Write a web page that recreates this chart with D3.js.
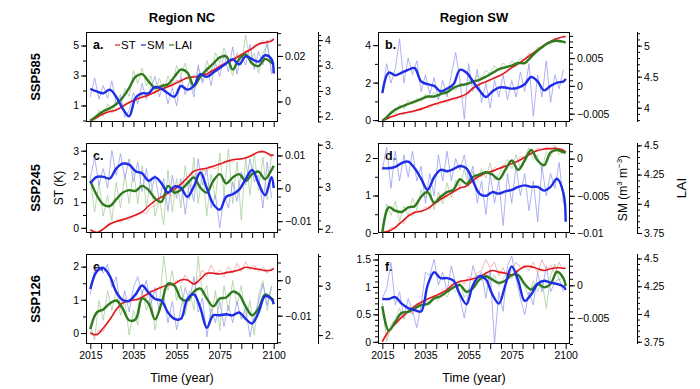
<!DOCTYPE html>
<html>
<head>
<meta charset="utf-8">
<script src="https://cdn.jsdelivr.net/npm/d3@7"></script>
<style>
  body { margin: 0; background: #fff; }
</style>
</head>
<body>
<script>
// years: raw series sampled every 2 years, smoothed series every 3 years
const rawYears = d3.range(2015, 2100, 2)
const smoothYears = d3.range(2015, 2100, 3).concat([2100])
const xTickYears = d3.range(2015, 2101, 5)
const xLabelYears = [2015, 2035, 2055, 2075, 2100]

const regions = ["Region NC", "Region SW"]
const scenarios = ["SSP585", "SSP245", "SSP126"]
const panelLetters = ["a.", "b.", "c.", "d.", "e.", "f."]
const legendNames = ["ST", "SM", "LAI"]

// ---- a. NC SSP585
const a_st = [0.0, 0.2, 0.45, 0.6, 0.7, 0.95, 1.2, 1.4, 1.55, 1.7, 1.9, 2.1, 2.25, 2.45, 2.65, 2.85, 2.9, 2.95, 3.1, 3.35, 3.6, 3.85, 4.05, 4.3, 4.55, 4.8, 5.1, 5.2, 5.3, 5.45]
const a_st_raw = [0.1, 0.05, 0.4, 0.35, 0.7, 0.5, 0.8, 0.75, 1.1, 1.15, 1.45, 1.3, 1.7, 1.5, 1.9, 1.8, 2.15, 1.95, 2.4, 2.2, 2.7, 2.55, 2.9, 2.7, 3.05, 2.8, 3.15, 2.95, 3.4, 3.25, 3.75, 3.6, 4.05, 3.9, 4.4, 4.2, 4.7, 4.55, 5.05, 4.95, 5.35, 5.05, 5.5]
const a_sm = [0.0056, 0.0044, 0.0036, 0.0052, 0.0021, -0.0031, -0.0065, 0.0017, 0.0036, 0.0036, 0.0064, 0.0056, 0.0036, 0.0021, 0.0068, 0.0052, 0.0068, 0.012, 0.0108, 0.0127, 0.0147, 0.0167, 0.0186, 0.0163, 0.0198, 0.0186, 0.0175, 0.0203, 0.0186, 0.0123]
const a_sm_raw = [0.002, 0.0104, 0.001, 0.007, 0.0015, 0.009, -0.001, 0.003, -0.007, -0.004, 0.004, -0.001, 0.008, 0.001, 0.006, 0.011, 0.002, 0.008, -0.001, 0.006, -0.002, 0.011, 0.003, 0.009, 0.002, 0.016, 0.008, 0.015, 0.007, 0.017, 0.011, 0.021, 0.013, 0.024, 0.012, 0.021, 0.016, 0.025, 0.014, 0.022, 0.016, 0.027, 0.012]
const a_lai = [2.41, 2.51, 2.6, 2.66, 2.74, 2.87, 3.06, 3.28, 3.33, 3.19, 3.06, 3.1, 3.13, 3.28, 3.42, 3.36, 3.1, 3.28, 3.42, 3.54, 3.66, 3.68, 3.42, 3.63, 3.72, 3.54, 3.49, 3.63, 3.56, 3.52]
const a_lai_raw = [2.45, 2.4, 2.62, 2.5, 2.75, 2.58, 2.85, 2.7, 3.05, 2.9, 3.4, 3.15, 3.45, 3.1, 3.3, 2.95, 3.25, 3.0, 3.3, 3.1, 3.5, 3.3, 3.55, 3.2, 3.0, 3.45, 3.2, 3.6, 3.35, 3.75, 3.55, 3.85, 3.55, 3.3, 3.75, 3.5, 4.1, 3.6, 3.75, 3.35, 3.75, 3.9, 3.4]

// ---- b. SW SSP585
const b_st = [0.0, 0.12, 0.25, 0.35, 0.42, 0.5, 0.6, 0.72, 0.85, 0.95, 1.05, 1.15, 1.25, 1.4, 1.7, 1.9, 2.05, 2.2, 2.35, 2.55, 2.8, 3.0, 3.25, 3.5, 3.75, 4.0, 4.2, 4.35, 4.45, 4.45]
const b_st_raw = [0.05, 0.0, 0.2, 0.22, 0.35, 0.3, 0.45, 0.4, 0.55, 0.52, 0.7, 0.65, 0.85, 0.8, 0.98, 0.95, 1.1, 1.08, 1.25, 1.2, 1.4, 1.65, 1.85, 1.95, 2.05, 2.1, 2.3, 2.3, 2.45, 2.6, 2.8, 2.9, 3.15, 3.2, 3.45, 3.55, 3.8, 3.9, 4.1, 4.15, 4.35, 4.35, 4.5]
const b_sm = [-0.0013, 0.0024, 0.0019, 0.0024, 0.0029, 0.0032, 0.0008, 0.0003, 0.0, -0.001, -0.0005, 0.0003, 0.0029, 0.0024, 0.0008, -0.0008, -0.002, -0.001, -0.0003, -0.0003, -0.0005, -0.0003, 0.0003, 0.0016, 0.0008, -0.0008, 0.0, 0.0006, 0.0008, 0.0013]
const b_sm_raw = [-0.001, 0.004, 0.0005, 0.003, 0.0085, 0.0005, 0.005, 0.002, 0.0045, -0.001, 0.002, -0.0015, 0.0015, -0.0025, 0.001, -0.002, 0.002, 0.006, 0.001, -0.006, 0.004, -0.001, 0.003, -0.003, 0.0005, -0.004, 0.001, -0.002, 0.002, -0.0025, 0.001, -0.002, 0.0025, -0.001, 0.004, -0.0055, 0.002, -0.002, 0.0045, -0.003, 0.002, -0.0005, 0.003]
const b_lai = [3.78, 3.88, 3.97, 4.02, 4.06, 4.1, 4.14, 4.18, 4.18, 4.22, 4.25, 4.32, 4.36, 4.38, 4.42, 4.45, 4.5, 4.56, 4.62, 4.65, 4.68, 4.72, 4.72, 4.82, 4.92, 5.0, 5.06, 5.08, 5.06, 5.05]
const b_lai_raw = [3.8, 3.85, 3.95, 3.9, 4.05, 3.98, 4.12, 4.05, 4.15, 4.1, 4.22, 4.15, 4.25, 4.15, 4.28, 4.22, 4.35, 4.28, 4.4, 4.35, 4.45, 4.4, 4.52, 4.48, 4.6, 4.55, 4.68, 4.6, 4.72, 4.66, 4.75, 4.7, 4.8, 4.76, 4.88, 4.85, 4.98, 4.95, 5.05, 5.02, 5.1, 5.05, 5.08]

// ---- c. NC SSP245
const c_st = [-0.08, -0.18, -0.05, 0.15, 0.25, 0.32, 0.4, 0.5, 0.62, 0.85, 1.05, 1.2, 1.35, 1.5, 1.7, 1.95, 2.2, 2.28, 2.32, 2.4, 2.48, 2.58, 2.65, 2.68, 2.72, 2.82, 2.95, 2.95, 2.82, 2.85]
const c_st_raw = [-0.05, -0.15, -0.2, -0.05, 0.05, 0.15, 0.25, 0.22, 0.35, 0.3, 0.45, 0.5, 0.6, 0.55, 0.8, 0.85, 1.05, 1.1, 1.3, 1.25, 1.45, 1.5, 1.75, 1.8, 2.05, 2.1, 2.25, 2.2, 2.35, 2.3, 2.45, 2.5, 2.6, 2.55, 2.7, 2.65, 2.75, 2.8, 2.9, 2.95, 3.0, 2.85, 2.75]
const c_sm = [0.0015, 0.0035, 0.0035, 0.003, 0.006, 0.0075, 0.0072, 0.0052, 0.0046, 0.0023, 0.0034, 0.0015, -0.0013, 0.0006, 0.0001, -0.0026, 0.0006, 0.0048, 0.0001, -0.0048, -0.0065, -0.0026, -0.0018, -0.0004, 0.0028, 0.0056, 0.0015, -0.0021, 0.0034, 0.0001]
const c_sm_raw = [0.003, 0.0095, 0.001, 0.006, 0.0, 0.0115, 0.004, 0.0105, 0.003, 0.009, 0.002, 0.008, -0.001, 0.006, -0.002, 0.004, -0.004, 0.003, -0.007, 0.004, -0.003, 0.003, -0.008, 0.002, -0.004, 0.009, 0.001, 0.006, -0.006, -0.002, -0.012, -0.002, -0.006, 0.002, -0.004, 0.005, 0.001, 0.009, 0.002, 0.004, -0.006, 0.008, -0.003]
const c_lai = [3.07, 2.9, 2.79, 2.77, 2.85, 2.93, 2.96, 2.95, 3.01, 2.96, 2.86, 2.82, 3.01, 2.93, 2.96, 3.04, 3.11, 2.99, 2.93, 3.07, 3.15, 3.04, 3.11, 3.15, 3.07, 3.15, 3.18, 3.09, 3.2, 3.25]
const c_lai_raw = [3.1, 2.7, 3.05, 2.65, 2.9, 2.6, 3.05, 2.75, 3.15, 2.8, 3.2, 2.8, 3.25, 2.75, 3.1, 2.65, 2.85, 2.55, 3.2, 2.7, 3.1, 2.75, 3.25, 2.85, 3.35, 2.8, 3.2, 2.65, 3.15, 2.85, 3.4, 2.9, 3.45, 2.8, 3.3, 2.6, 3.35, 2.9, 3.4, 2.95, 3.35, 2.85, 3.4]

// ---- d. SW SSP245
const d_st = [0.02, 0.05, 0.15, 0.3, 0.45, 0.55, 0.58, 0.65, 0.78, 0.9, 1.0, 1.1, 1.2, 1.25, 1.4, 1.52, 1.6, 1.65, 1.72, 1.78, 1.85, 1.92, 2.02, 2.12, 2.2, 2.24, 2.25, 2.25, 2.2, 2.15]
const d_st_raw = [0.05, 0.0, 0.15, 0.1, 0.3, 0.25, 0.5, 0.45, 0.6, 0.55, 0.7, 0.62, 0.85, 0.8, 1.0, 0.95, 1.12, 1.1, 1.25, 1.2, 1.4, 1.35, 1.55, 1.5, 1.65, 1.6, 1.75, 1.7, 1.82, 1.78, 1.92, 1.88, 2.05, 2.0, 2.18, 2.12, 2.28, 2.2, 2.3, 2.22, 2.3, 2.2, 2.25]
const d_sm = [-0.0013, -0.0013, -0.0011, -0.0006, -0.0004, -0.0013, -0.0027, -0.0042, -0.0025, -0.0015, -0.0017, -0.0014, -0.001, -0.0013, -0.003, -0.0047, -0.005, -0.0045, -0.0047, -0.0044, -0.0042, -0.0038, -0.0036, -0.0038, -0.0038, -0.0043, -0.0038, -0.0027, -0.0047, -0.0085]
const d_sm_raw = [-0.0015, 0.0015, -0.004, 0.001, -0.003, 0.0005, -0.0025, 0.001, -0.003, -0.001, -0.006, -0.002, -0.005, 0.0005, -0.003, 0.001, -0.003, 0.0, -0.0015, 0.0005, -0.003, -0.001, -0.006, -0.003, -0.0075, -0.002, -0.006, -0.003, -0.009, -0.002, -0.006, -0.001, -0.005, -0.002, -0.007, -0.003, -0.0085, -0.001, -0.005, -0.002, -0.004, -0.0005, -0.006]
const d_lai = [3.75, 3.97, 3.94, 3.93, 3.97, 3.98, 4.06, 4.1, 4.01, 4.06, 4.1, 4.12, 4.21, 4.17, 4.23, 4.25, 4.27, 4.25, 4.21, 4.29, 4.37, 4.29, 4.37, 4.46, 4.37, 4.33, 4.44, 4.46, 4.44, 4.44]
const d_lai_raw = [3.78, 4.0, 3.9, 4.02, 3.85, 3.98, 3.9, 4.05, 3.95, 4.12, 4.05, 4.15, 3.95, 4.1, 4.0, 4.18, 4.05, 4.2, 4.15, 4.3, 4.15, 4.28, 4.2, 4.3, 4.22, 4.35, 4.2, 4.25, 4.32, 4.38, 4.3, 4.42, 4.3, 4.4, 4.48, 4.38, 4.42, 4.28, 4.45, 4.4, 4.5, 4.42, 4.45]

// ---- e. NC SSP126
const e_st = [0.0, -0.05, 0.15, 0.4, 0.7, 0.9, 0.98, 1.0, 1.08, 1.2, 1.3, 1.38, 1.45, 1.48, 1.6, 1.6, 1.48, 1.62, 1.8, 1.8, 1.78, 1.82, 1.85, 1.9, 1.98, 1.95, 1.92, 1.88, 1.9, 1.95]
const e_st_raw = [0.05, -0.1, 0.1, 0.05, 0.35, 0.5, 0.75, 0.85, 1.05, 0.9, 1.05, 0.95, 1.15, 1.05, 1.3, 1.2, 1.4, 1.3, 1.5, 1.4, 1.6, 1.5, 1.75, 1.55, 1.45, 1.65, 1.9, 1.7, 2.05, 1.75, 1.9, 1.7, 2.0, 1.8, 2.1, 1.85, 2.15, 1.9, 2.05, 1.85, 2.0, 1.8, 1.95]
const e_sm = [-0.0025, 0.0025, 0.0035, 0.0012, -0.0033, -0.0056, -0.0058, -0.004, -0.0015, -0.0035, -0.0053, -0.0058, -0.0091, -0.0109, -0.0109, -0.0053, -0.004, -0.0078, -0.0134, -0.0099, -0.0099, -0.0096, -0.0099, -0.0091, -0.0109, -0.0122, -0.0091, -0.0045, -0.0053, -0.0068]
const e_sm_raw = [-0.004, 0.003, 0.004, 0.002, 0.0045, -0.002, 0.001, -0.008, -0.003, -0.009, -0.002, 0.001, -0.004, 0.0, -0.007, -0.002, -0.009, -0.004, -0.012, -0.006, -0.014, -0.008, -0.002, -0.006, 0.001, -0.009, -0.005, -0.016, -0.008, -0.012, -0.006, -0.013, -0.007, -0.012, -0.006, -0.011, -0.008, -0.016, -0.01, -0.006, -0.001, -0.007, -0.002]
const e_lai = [2.56, 2.73, 2.76, 2.82, 2.85, 2.77, 2.65, 2.66, 2.87, 2.82, 2.66, 2.82, 3.02, 3.0, 2.87, 2.85, 2.94, 2.97, 2.87, 2.79, 2.87, 2.88, 2.94, 2.91, 2.79, 2.7, 2.77, 2.91, 2.87, 2.85]
const e_lai_raw = [2.6, 2.45, 2.85, 2.65, 2.95, 2.75, 2.95, 2.7, 2.85, 2.5, 2.75, 2.6, 2.95, 2.75, 2.9, 2.55, 2.8, 3.3, 2.95, 3.15, 2.85, 3.0, 2.7, 2.95, 2.75, 3.3, 2.9, 3.0, 2.65, 2.95, 2.55, 3.0, 2.75, 3.05, 2.8, 3.0, 2.65, 2.85, 2.5, 2.9, 3.05, 2.75, 3.0]

// ---- f. SW SSP126
const f_st = [0.0, 0.2, 0.33, 0.45, 0.55, 0.65, 0.72, 0.78, 0.83, 0.88, 0.95, 1.05, 1.1, 1.12, 1.15, 1.18, 1.25, 1.3, 1.27, 1.25, 1.22, 1.3, 1.37, 1.37, 1.33, 1.3, 1.33, 1.35, 1.34, 1.34]
const f_st_raw = [0.05, 0.1, 0.25, 0.3, 0.4, 0.45, 0.55, 0.5, 0.65, 0.7, 0.75, 0.7, 0.82, 0.85, 0.95, 0.9, 1.05, 1.0, 1.12, 1.05, 1.2, 1.1, 1.25, 1.3, 1.5, 1.35, 1.45, 1.2, 1.35, 1.15, 1.3, 1.45, 1.35, 1.4, 1.3, 1.45, 1.25, 1.5, 1.3, 1.4, 1.25, 1.45, 1.3]
const f_sm = [-0.0021, -0.0021, -0.0018, -0.0028, -0.0035, -0.0038, -0.004, 0.0, 0.002, 0.0011, 0.0011, 0.0007, -0.0014, -0.0029, 0.0, 0.0014, 0.0009, -0.0014, -0.0028, 0.0, 0.0029, 0.0007, -0.0024, -0.0014, 0.0002, 0.0007, 0.0004, 0.0002, -0.0002, -0.0007]
const f_sm_raw = [-0.002, -0.0005, 0.0035, -0.003, -0.001, -0.005, -0.002, -0.004, -0.0065, -0.003, 0.002, 0.0015, 0.004, 0.0, 0.002, -0.001, 0.003, 0.0, -0.002, -0.005, -0.001, 0.003, 0.001, 0.002, -0.002, 0.0025, -0.009, -0.001, -0.004, 0.003, 0.0045, 0.001, -0.002, -0.0045, -0.001, -0.003, 0.002, -0.001, 0.003, -0.001, 0.0005, 0.001, -0.001]
const f_lai = [4.07, 3.85, 3.93, 4.01, 4.02, 4.05, 4.08, 4.09, 4.14, 4.16, 4.2, 4.24, 4.26, 4.2, 4.23, 4.31, 4.34, 4.31, 4.28, 4.3, 4.35, 4.35, 4.27, 4.22, 4.27, 4.24, 4.27, 4.38, 4.32, 4.25]
const f_lai_raw = [4.1, 3.75, 3.9, 3.95, 4.05, 3.95, 4.05, 4.0, 4.1, 4.05, 4.12, 4.08, 4.15, 4.12, 4.2, 4.15, 4.25, 4.2, 4.28, 4.15, 4.22, 4.25, 4.35, 4.3, 4.38, 4.28, 4.35, 4.25, 4.32, 4.38, 4.32, 4.4, 4.3, 4.25, 4.15, 4.3, 4.2, 4.3, 4.05, 4.35, 4.45, 4.3, 4.35]

// axis ranges and tick labels, panels a..f
const stDomains = [[-0.1, 5.9], [-0.1, 4.7], [-0.2, 3.3], [0, 2.4], [-0.33, 2.38], [-0.04, 1.6]]
const stLabels = [[1, 3, 5], [0, 2, 4], [0, 1, 2, 3], [0, 1, 2], [0, 1, 2], [0, 0.5, 1, 1.5]]
const stMinor = [1, 1, 0.5, 0.5, 0.5, 0.1]
const smDomains = [[-0.009, 0.0305], [-0.0065, 0.0097], [-0.0136, 0.0138], [-0.01, 0.0021], [-0.018, 0.0074], [-0.009, 0.0048]]
const smLabels = [[0, 0.02], [-0.005, 0, 0.005], [-0.01, 0, 0.01], [-0.01, -0.005, 0], [-0.01, 0], [-0.005, 0]]
const smMinor = [0.005, 0.001, 0.0025, 0.001, 0.0025, 0.001]
const laiDomains = [[2.39, 4.16], [3.77, 5.22], [2.45, 3.52], [3.75, 4.52], [2.41, 3.32], [3.73, 4.54]]
const laiLabels = [[2.5, 3, 3.5, 4], [4, 4.5, 5], [2.5, 3, 3.5], [3.75, 4, 4.25, 4.5], [2.5, 3], [3.75, 4, 4.25, 4.5]]
const laiMinor = [0.1, 0.1, 0.1, 0.05, 0.1, 0.05]

const panels = [
  {st: a_st, stRaw: a_st_raw, sm: a_sm, smRaw: a_sm_raw, lai: a_lai, laiRaw: a_lai_raw},
  {st: b_st, stRaw: b_st_raw, sm: b_sm, smRaw: b_sm_raw, lai: b_lai, laiRaw: b_lai_raw},
  {st: c_st, stRaw: c_st_raw, sm: c_sm, smRaw: c_sm_raw, lai: c_lai, laiRaw: c_lai_raw},
  {st: d_st, stRaw: d_st_raw, sm: d_sm, smRaw: d_sm_raw, lai: d_lai, laiRaw: d_lai_raw},
  {st: e_st, stRaw: e_st_raw, sm: e_sm, smRaw: e_sm_raw, lai: e_lai, laiRaw: e_lai_raw},
  {st: f_st, stRaw: f_st_raw, sm: f_sm, smRaw: f_sm_raw, lai: f_lai, laiRaw: f_lai_raw}
]

// ---- styles / layout
let red = "#e3161d", blue = "#1d2ce6", green = "#2f7a1f"
let redThin = "#f3a3a3", blueThin = "#9aa0ef", greenThin = "#a9cf9c"
const panelW = 192, panelH = 90
const colLeft = [86, 378], rowTop = [32, 143, 254], laiGap = [40, 67]
const font = "'Liberation Sans', Arial, Helvetica, sans-serif"

let svg = d3.select("body").append("svg")
    .attr("width", 700).attr("height", 389)
    .style("font-family", font)

let defs = svg.append("defs")
defs.append("clipPath").attr("id", "clipLeftCol")
    .append("rect").attr("x", 0).attr("y", 0).attr("width", 333).attr("height", 389)

let fmtNum = v => (v < 0 ? "\u2212" : "") + Math.abs(v)

let stepTicks = (dom, step) => {
    let lo = Math.ceil(dom[0] / step - 1e-6), hi = Math.floor(dom[1] / step + 1e-6)
    return d3.range(lo, hi + 1).map(k => +(k * step).toFixed(5))
}

let styleAxis = g => {
    g.select(".domain").remove()
    g.selectAll("line").attr("stroke", "#000").attr("stroke-width", 1)
    g.selectAll("text").attr("fill", "#000").style("font-family", font).style("font-size", "10.5px")
}

let drawAxis = (g, axisFn, scale, minor, labels) => {
    g.append("g").call(axisFn(scale).tickValues(minor).tickSize(3).tickFormat("")).call(styleAxis)
    g.append("g").call(axisFn(scale).tickValues(labels).tickSize(5).tickPadding(2).tickFormat(fmtNum)).call(styleAxis)
}

panels.forEach((p, i) => {
    let col = i % 2, row = Math.floor(i / 2)
    let x0 = colLeft[col], y0 = rowTop[row]
    let g = svg.append("g")

    let x = d3.scaleLinear().domain([2013, 2102]).range([x0, x0 + panelW])
    let yST = d3.scaleLinear().domain(stDomains[i]).range([y0 + panelH, y0])
    let ySM = d3.scaleLinear().domain(smDomains[i]).range([y0 + panelH, y0])
    let yLAI = d3.scaleLinear().domain(laiDomains[i]).range([y0 + panelH, y0])

    defs.append("clipPath").attr("id", "clip" + i)
        .append("rect").attr("x", x0).attr("y", y0).attr("width", panelW).attr("height", panelH)

    // panel letter
    g.append("text").attr("x", x0 + 7).attr("y", y0 + 17)
        .attr("font-size", 12.5).attr("font-weight", "bold").text(panelLetters[i])

    // legend (first panel only)
    if (i == 0) {
        let lx = [x0 + 29, x0 + 55, x0 + 83], cols = [red, blue, green]
        legendNames.forEach((n, k) => {
            g.append("line").attr("x1", lx[k]).attr("x2", lx[k] + 5)
                .attr("y1", y0 + 13).attr("y2", y0 + 13).attr("stroke", cols[k]).attr("stroke-width", 1.2)
            g.append("text").attr("x", lx[k] + 6).attr("y", y0 + 17)
                .attr("font-size", 11.5).text(n)
        })
    }

    let lines = g.append("g").attr("clip-path", "url(#clip" + i + ")")
    let mkLine = (yScale, yrs, curve) => d3.line()
        .defined(d => d != null)
        .x((d, k) => x(yrs[k])).y(d => yScale(d)).curve(curve)

    // annual (thin) series
    lines.append("path").attr("d", mkLine(yLAI, rawYears, d3.curveLinear)(p.laiRaw))
        .attr("fill", "none").attr("stroke", greenThin).attr("stroke-width", 0.8)
    lines.append("path").attr("d", mkLine(ySM, rawYears, d3.curveLinear)(p.smRaw))
        .attr("fill", "none").attr("stroke", blueThin).attr("stroke-width", 0.8)
    lines.append("path").attr("d", mkLine(yST, rawYears, d3.curveLinear)(p.stRaw))
        .attr("fill", "none").attr("stroke", redThin).attr("stroke-width", 0.8)

    // smoothed series
    lines.append("path").attr("d", mkLine(yST, smoothYears, d3.curveCatmullRom)(p.st))
        .attr("fill", "none").attr("stroke", red).attr("stroke-width", 1.6)
    lines.append("path").attr("d", mkLine(yLAI, smoothYears, d3.curveCatmullRom)(p.lai))
        .attr("fill", "none").attr("stroke", green).attr("stroke-width", 2.4)
    lines.append("path").attr("d", mkLine(ySM, smoothYears, d3.curveCatmullRom)(p.sm))
        .attr("fill", "none").attr("stroke", blue).attr("stroke-width", 2.4)

    // frame
    g.append("rect").attr("x", x0 + 0.5).attr("y", y0 + 0.5)
        .attr("width", panelW - 1).attr("height", panelH - 1)
        .attr("fill", "none").attr("stroke", "#000").attr("stroke-width", 1)

    // x axis
    let gx = g.append("g").attr("transform", "translate(0," + (y0 + panelH) + ")")
    gx.call(d3.axisBottom(x).tickValues(xTickYears).tickSize(5).tickPadding(3)
        .tickFormat(d => (row == 2 && xLabelYears.includes(d)) ? d : ""))
        .call(styleAxis)

    // ST (left)
    drawAxis(g.append("g").attr("transform", "translate(" + x0 + ",0)"),
        d3.axisLeft, yST, stepTicks(stDomains[i], stMinor[i]), stLabels[i])
    // SM (right of frame)
    drawAxis(g.append("g").attr("transform", "translate(" + (x0 + panelW) + ",0)"),
        d3.axisRight, ySM, stepTicks(smDomains[i], smMinor[i]), smLabels[i])
    // LAI (separate outer axis)
    let lxPos = x0 + panelW + laiGap[col]
    let gl = g.append("g").attr("transform", "translate(" + lxPos + ",0)")
    if (col == 0) gl = svg.append("g").attr("clip-path", "url(#clipLeftCol)")
        .append("g").attr("transform", "translate(" + lxPos + ",0)")
    gl.append("line").attr("x1", 0.5).attr("x2", 0.5).attr("y1", y0).attr("y2", y0 + panelH)
        .attr("stroke", "#000")
    drawAxis(gl, d3.axisRight, yLAI, stepTicks(laiDomains[i], laiMinor[i]), laiLabels[i])
})

// titles
regions.forEach((r, k) => {
    svg.append("text").attr("x", colLeft[k] + panelW / 2).attr("y", 22)
        .attr("text-anchor", "middle").attr("font-size", 13).attr("font-weight", "bold").text(r)
    svg.append("text").attr("x", colLeft[k] + panelW / 2).attr("y", 382)
        .attr("text-anchor", "middle").attr("font-size", 12.5).text("Time (year)")
})
scenarios.forEach((s, k) => {
    svg.append("text").attr("transform", "translate(40," + (rowTop[k] + panelH / 2) + ") rotate(-90)")
        .attr("text-anchor", "middle").attr("font-size", 13).attr("font-weight", "bold").text(s)
})
svg.append("text").attr("transform", "translate(63," + (rowTop[1] + panelH / 2) + ") rotate(-90)")
    .attr("text-anchor", "middle").attr("font-size", 12).text("ST (K)")

let smTitle = svg.append("text").attr("transform", "translate(627," + (rowTop[1] + panelH / 2) + ") rotate(-90)")
    .attr("text-anchor", "middle").attr("font-size", 12)
smTitle.append("tspan").text("SM (m")
smTitle.append("tspan").attr("font-size", 8).attr("dy", -5).text("3")
smTitle.append("tspan").attr("dy", 5).text(" m")
smTitle.append("tspan").attr("font-size", 8).attr("dy", -5).text("\u22123")
smTitle.append("tspan").attr("dy", 5).text(")")

svg.append("text").attr("transform", "translate(686," + (rowTop[1] + panelH / 2) + ") rotate(-90)")
    .attr("text-anchor", "middle").attr("font-size", 13.5).text("LAI")
</script>
</body>
</html>
